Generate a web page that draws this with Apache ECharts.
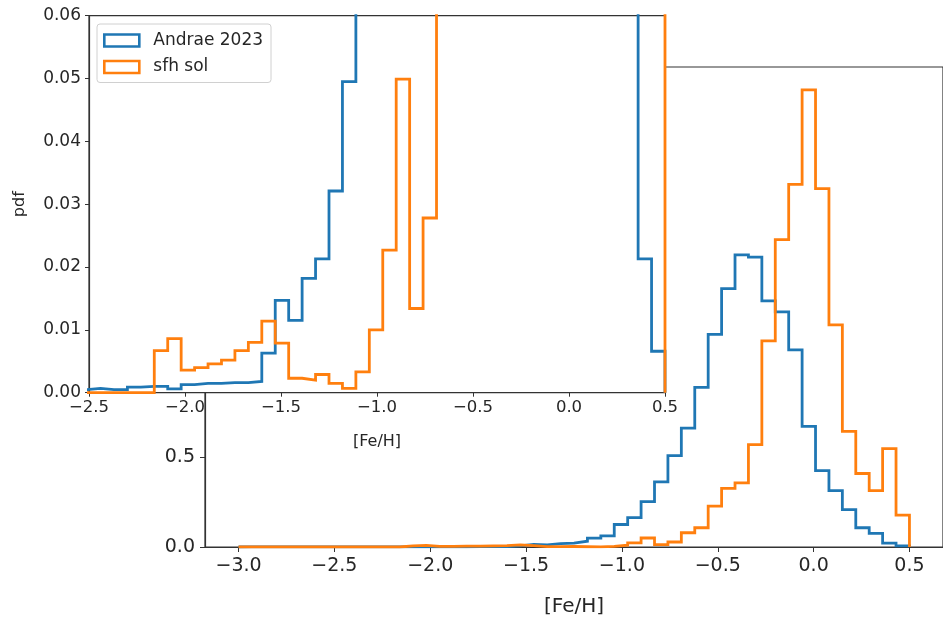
<!DOCTYPE html>
<html>
<head>
<meta charset="utf-8">
<script src="https://cdn.jsdelivr.net/npm/echarts@6/dist/echarts.min.js"></script>
<style>
  html, body { margin: 0; padding: 0; background: #fff; }
  #main { width: 943px; height: 622px; }
</style>
</head>
<body>
<div id="main"></div>
<script>
// bin edges of the [Fe/H] histograms (50 bins, width 0.07)
const binEdges = [
  -3.00, -2.93, -2.86, -2.79, -2.72, -2.65, -2.58, -2.51, -2.44, -2.37,
  -2.30, -2.23, -2.16, -2.09, -2.02, -1.95, -1.88, -1.81, -1.74, -1.67,
  -1.60, -1.53, -1.46, -1.39, -1.32, -1.25, -1.18, -1.11, -1.04, -0.97,
  -0.90, -0.83, -0.76, -0.69, -0.62, -0.55, -0.48, -0.41, -0.34, -0.27,
  -0.20, -0.13, -0.06, 0.01, 0.08, 0.15, 0.22, 0.29, 0.36, 0.43, 0.50
];

// Andrae 2023 density per bin
const andrae = [
  0.0002, 0.0002, 0.0003, 0.0003, 0.0004, 0.0004, 0.0005, 0.0007, 0.0005, 0.0005,
  0.0009, 0.0010, 0.0010, 0.0006, 0.0013, 0.0015, 0.0015, 0.0016, 0.0016, 0.0018,
  0.0063, 0.0147, 0.0115, 0.0182, 0.0213, 0.0321, 0.0495, 0.062, 0.125, 0.163,
  0.252, 0.362, 0.507, 0.660, 0.886, 1.181, 1.434, 1.622, 1.609, 1.366,
  1.305, 1.094, 0.670, 0.424, 0.313, 0.208, 0.107, 0.076, 0.0213, 0.0066
];

// sfh sol density per bin
const sfhSol = [
  0, 0, 0, 0, 0, 0, 0, 0, 0, 0,
  0, 0, 0.0067, 0.0086, 0.0036, 0.0040, 0.0046, 0.0052, 0.0067, 0.0080,
  0.0114, 0.0079, 0.0023, 0.0020, 0.0029, 0.0015, 0.0007, 0.0033, 0.0100, 0.0227,
  0.0499, 0.0134, 0.0278, 0.079, 0.107, 0.227, 0.325, 0.356, 0.568, 1.144,
  1.707, 2.013, 2.538, 1.990, 1.233, 0.642, 0.408, 0.313, 0.546, 0.177
];

const mainXTicks = [-3.0, -2.5, -2.0, -1.5, -1.0, -0.5, 0.0, 0.5];
const seriesNames = ['Andrae 2023', 'sfh sol'];
const colors = ['#1f77b4', '#ff7f0e'];

const font = 'DejaVu Sans';
const ink = '#262626';

// step outline like matplotlib histtype='step'
function stepData(vals) {
  const pts = [[binEdges[0], 0]];
  vals.forEach((v, i) => pts.push([binEdges[i], v]));
  pts.push([binEdges[vals.length], 0]);
  return pts;
}

function fmt(d) {
  return v => v.toFixed(d).replace('-', '\u2212');
}

function histSeries(name, vals, color, axis, z) {
  return {
    name: name,
    type: 'line',
    step: 'end',
    xAxisIndex: axis,
    yAxisIndex: axis,
    data: stepData(vals),
    showSymbol: false,
    symbol: 'none',
    silent: true,
    animation: false,
    z: z,
    lineStyle: { color: color, width: 2.8, join: 'miter' }
  };
}

const chart = echarts.init(document.getElementById('main'));

chart.setOption({
  animation: false,
  grid: [
    { // main axes
      left: 205, top: 67, width: 742, height: 482.3,
      show: true, backgroundColor: 'transparent',
      borderColor: '#333', borderWidth: 1.2, z: 1
    },
    { // inset axes
      left: 89, top: 15.7, width: 576, height: 377,
      show: true, backgroundColor: '#fff',
      borderColor: '#333', borderWidth: 1.2, z: 5
    }
  ],
  xAxis: [
    {
      type: 'value', gridIndex: 0, min: -3.175, max: 0.675, z: 1,
      name: '[Fe/H]', nameLocation: 'middle', nameGap: 50,
      nameTextStyle: { fontFamily: font, fontSize: 20, color: ink },
      splitLine: { show: false },
      axisLine: { onZero: false, lineStyle: { color: '#333', width: 1.2 } },
      axisTick: { customValues: mainXTicks, length: 5, lineStyle: { color: '#333' } },
      axisLabel: { customValues: mainXTicks, formatter: fmt(1), margin: 10,
                   fontFamily: font, fontSize: 19, color: ink }
    },
    {
      type: 'value', gridIndex: 1, min: -2.5, max: 0.5, interval: 0.5, z: 6,
      name: '[Fe/H]', nameLocation: 'middle', nameGap: 41,
      nameTextStyle: { fontFamily: font, fontSize: 16, color: ink },
      splitLine: { show: false },
      axisLine: { onZero: false, lineStyle: { color: '#333', width: 1.2 } },
      axisTick: { length: 4, lineStyle: { color: '#333' } },
      axisLabel: { formatter: fmt(1), margin: 7, fontFamily: font, fontSize: 16.5, color: ink }
    }
  ],
  yAxis: [
    {
      type: 'value', gridIndex: 0, min: 0, max: 2.665, interval: 0.5, z: 1,
      splitLine: { show: false },
      axisLine: { show: true, onZero: false, lineStyle: { color: '#333', width: 1.2 } },
      axisTick: { show: true, length: 5, lineStyle: { color: '#333' } },
      axisLabel: { formatter: fmt(1), margin: 10, fontFamily: font, fontSize: 19, color: ink }
    },
    {
      type: 'value', gridIndex: 1, min: 0, max: 0.06, interval: 0.01, z: 6,
      name: 'pdf', nameLocation: 'middle', nameGap: 61, nameRotate: 90,
      nameTextStyle: { fontFamily: font, fontSize: 16, color: ink },
      splitLine: { show: false },
      axisLine: { show: true, onZero: false, lineStyle: { color: '#333', width: 1.2 } },
      axisTick: { show: true, length: 4, lineStyle: { color: '#333' } },
      axisLabel: { formatter: fmt(2), margin: 8, fontFamily: font, fontSize: 17, color: ink }
    }
  ],
  legend: {
    left: 97, top: 24, orient: 'vertical', z: 10,
    itemWidth: 35, itemHeight: 12, itemGap: 9.5,
    padding: [8, 8, 7, 6],
    borderColor: '#d0d0d0', borderWidth: 1, borderRadius: 3,
    backgroundColor: 'rgba(255,255,255,0.85)',
    textStyle: { fontFamily: font, fontSize: 17, color: ink, padding: [0, 0, 0, 9] },
    selectedMode: false,
    data: seriesNames.map((n, i) => ({
      name: n, icon: 'rect',
      itemStyle: { color: 'rgba(255,255,255,0)', borderColor: colors[i], borderWidth: 2.6 }
    }))
  },
  series: [
    histSeries(seriesNames[0], andrae, colors[0], 0, 2),
    histSeries(seriesNames[1], sfhSol, colors[1], 0, 2),
    histSeries(seriesNames[0], andrae, colors[0], 1, 7),
    histSeries(seriesNames[1], sfhSol, colors[1], 1, 7)
  ]
});
</script>
</body>
</html>
